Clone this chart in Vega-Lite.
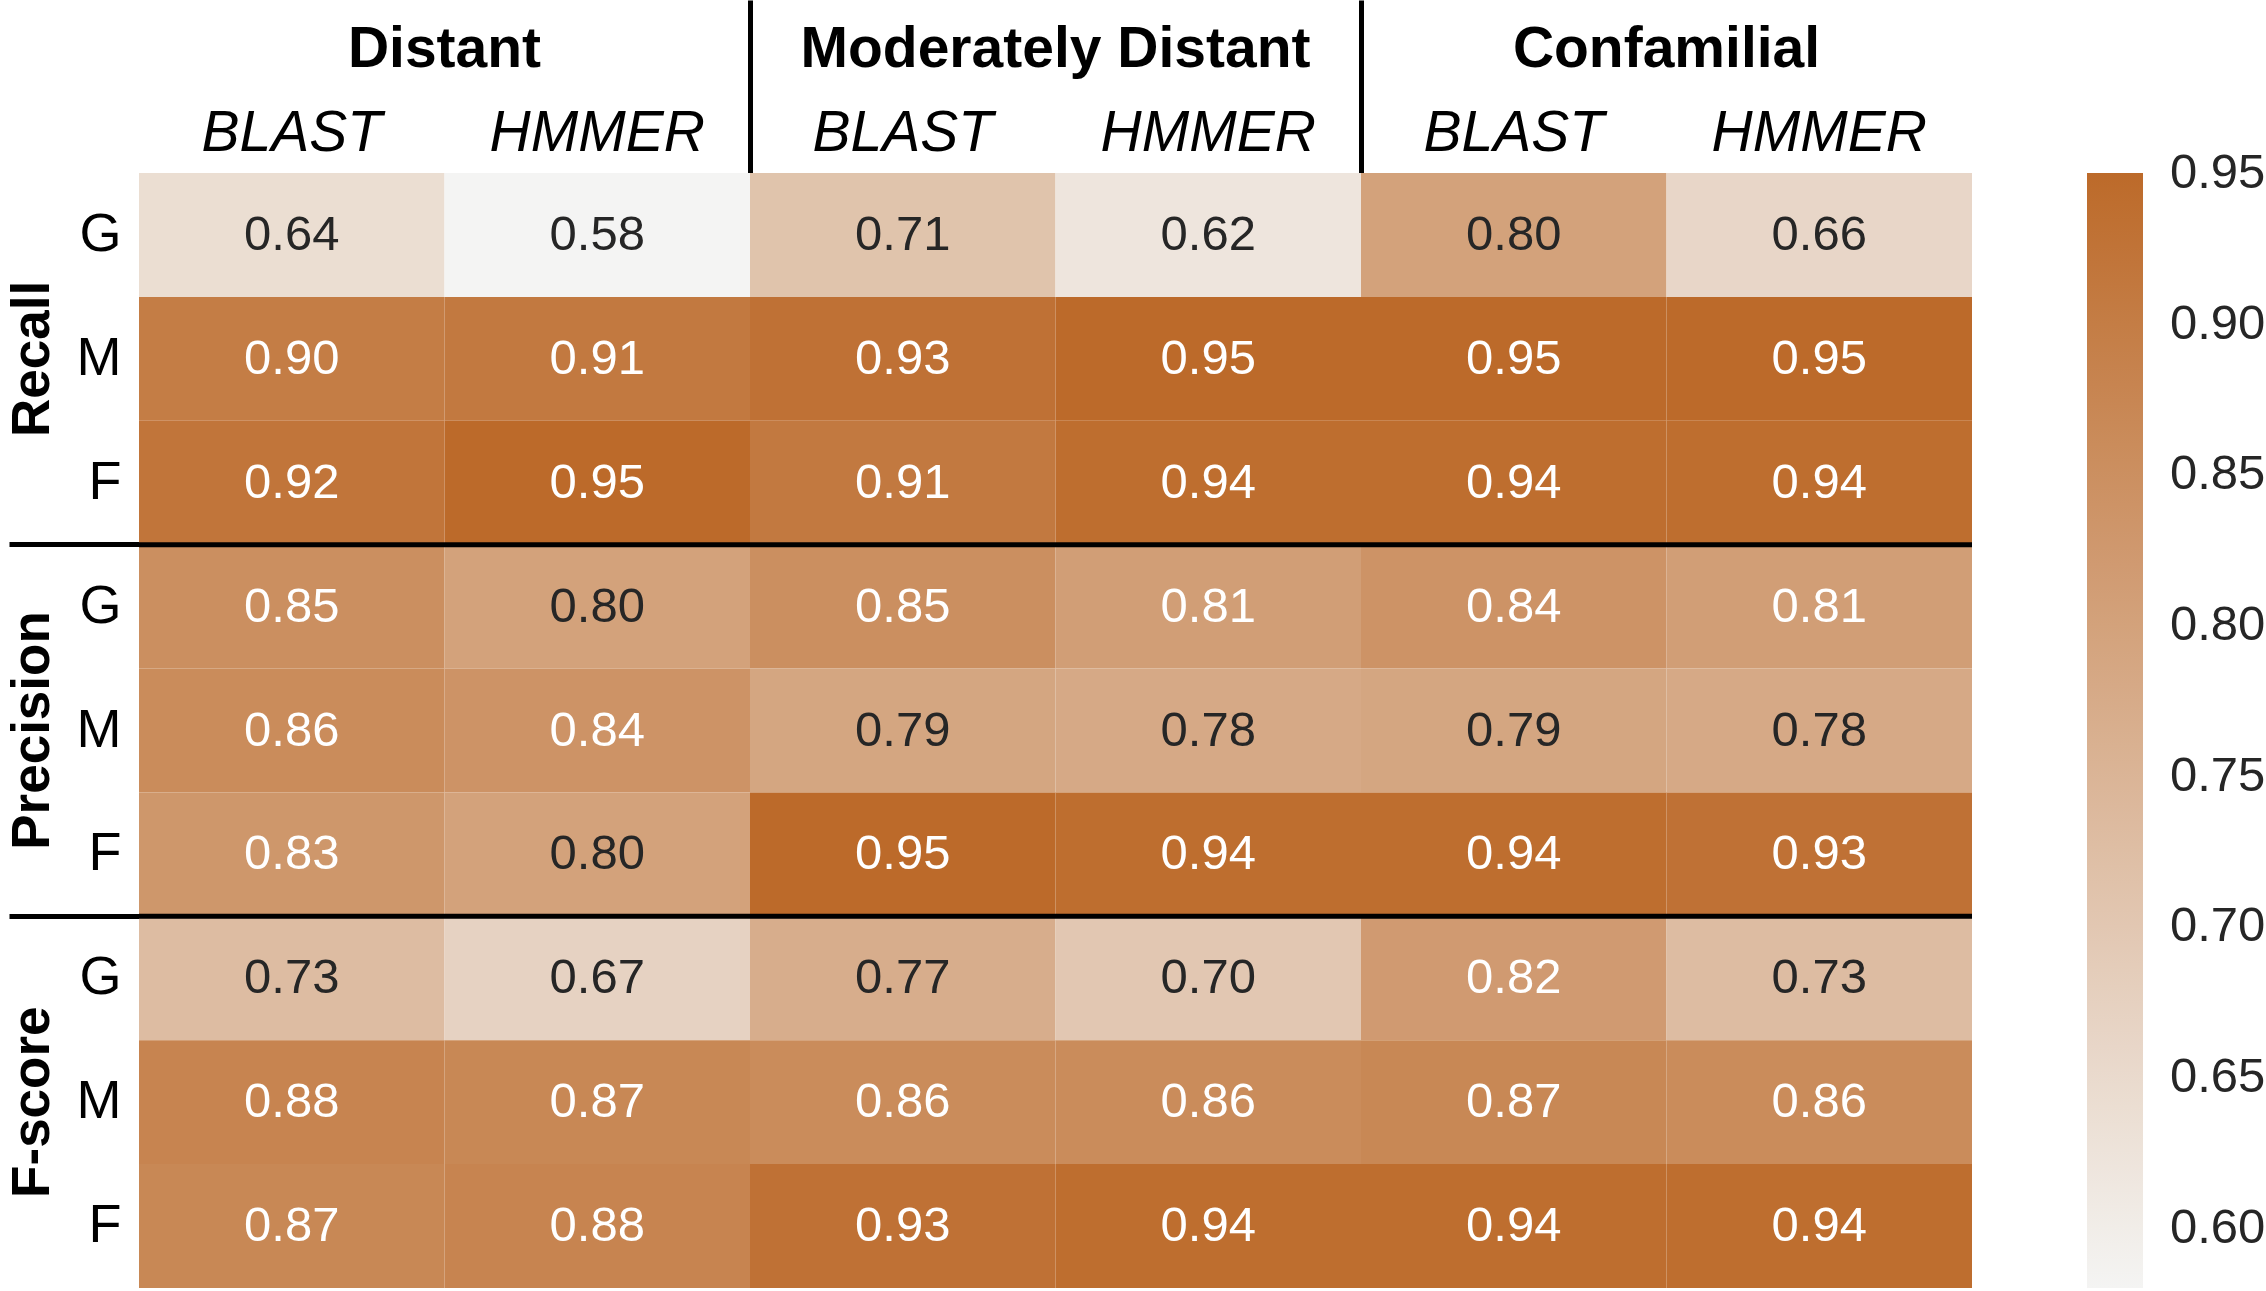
{
  "$schema": "https://vega.github.io/schema/vega-lite/v6.json",
  "width": 1833,
  "height": 1115,
  "autosize": {"type": "none"},
  "padding": {"left": 139, "top": 173, "right": 294, "bottom": 3},
  "background": "white",
  "config": {"view": {"stroke": null}, "font": "Liberation Sans"},
  "datasets": {
    "cells": [
      {"group": "Distant", "method": "BLAST", "metric": "Recall", "sub": "G", "value": 0.64},
      {"group": "Distant", "method": "HMMER", "metric": "Recall", "sub": "G", "value": 0.58},
      {"group": "Moderately Distant", "method": "BLAST", "metric": "Recall", "sub": "G", "value": 0.71},
      {"group": "Moderately Distant", "method": "HMMER", "metric": "Recall", "sub": "G", "value": 0.62},
      {"group": "Confamilial", "method": "BLAST", "metric": "Recall", "sub": "G", "value": 0.80},
      {"group": "Confamilial", "method": "HMMER", "metric": "Recall", "sub": "G", "value": 0.66},
      {"group": "Distant", "method": "BLAST", "metric": "Recall", "sub": "M", "value": 0.90},
      {"group": "Distant", "method": "HMMER", "metric": "Recall", "sub": "M", "value": 0.91},
      {"group": "Moderately Distant", "method": "BLAST", "metric": "Recall", "sub": "M", "value": 0.93},
      {"group": "Moderately Distant", "method": "HMMER", "metric": "Recall", "sub": "M", "value": 0.95},
      {"group": "Confamilial", "method": "BLAST", "metric": "Recall", "sub": "M", "value": 0.95},
      {"group": "Confamilial", "method": "HMMER", "metric": "Recall", "sub": "M", "value": 0.95},
      {"group": "Distant", "method": "BLAST", "metric": "Recall", "sub": "F", "value": 0.92},
      {"group": "Distant", "method": "HMMER", "metric": "Recall", "sub": "F", "value": 0.95},
      {"group": "Moderately Distant", "method": "BLAST", "metric": "Recall", "sub": "F", "value": 0.91},
      {"group": "Moderately Distant", "method": "HMMER", "metric": "Recall", "sub": "F", "value": 0.94},
      {"group": "Confamilial", "method": "BLAST", "metric": "Recall", "sub": "F", "value": 0.94},
      {"group": "Confamilial", "method": "HMMER", "metric": "Recall", "sub": "F", "value": 0.94},
      {"group": "Distant", "method": "BLAST", "metric": "Precision", "sub": "G", "value": 0.85},
      {"group": "Distant", "method": "HMMER", "metric": "Precision", "sub": "G", "value": 0.80},
      {"group": "Moderately Distant", "method": "BLAST", "metric": "Precision", "sub": "G", "value": 0.85},
      {"group": "Moderately Distant", "method": "HMMER", "metric": "Precision", "sub": "G", "value": 0.81},
      {"group": "Confamilial", "method": "BLAST", "metric": "Precision", "sub": "G", "value": 0.84},
      {"group": "Confamilial", "method": "HMMER", "metric": "Precision", "sub": "G", "value": 0.81},
      {"group": "Distant", "method": "BLAST", "metric": "Precision", "sub": "M", "value": 0.86},
      {"group": "Distant", "method": "HMMER", "metric": "Precision", "sub": "M", "value": 0.84},
      {"group": "Moderately Distant", "method": "BLAST", "metric": "Precision", "sub": "M", "value": 0.79},
      {"group": "Moderately Distant", "method": "HMMER", "metric": "Precision", "sub": "M", "value": 0.78},
      {"group": "Confamilial", "method": "BLAST", "metric": "Precision", "sub": "M", "value": 0.79},
      {"group": "Confamilial", "method": "HMMER", "metric": "Precision", "sub": "M", "value": 0.78},
      {"group": "Distant", "method": "BLAST", "metric": "Precision", "sub": "F", "value": 0.83},
      {"group": "Distant", "method": "HMMER", "metric": "Precision", "sub": "F", "value": 0.80},
      {"group": "Moderately Distant", "method": "BLAST", "metric": "Precision", "sub": "F", "value": 0.95},
      {"group": "Moderately Distant", "method": "HMMER", "metric": "Precision", "sub": "F", "value": 0.94},
      {"group": "Confamilial", "method": "BLAST", "metric": "Precision", "sub": "F", "value": 0.94},
      {"group": "Confamilial", "method": "HMMER", "metric": "Precision", "sub": "F", "value": 0.93},
      {"group": "Distant", "method": "BLAST", "metric": "F-score", "sub": "G", "value": 0.73},
      {"group": "Distant", "method": "HMMER", "metric": "F-score", "sub": "G", "value": 0.67},
      {"group": "Moderately Distant", "method": "BLAST", "metric": "F-score", "sub": "G", "value": 0.77},
      {"group": "Moderately Distant", "method": "HMMER", "metric": "F-score", "sub": "G", "value": 0.70},
      {"group": "Confamilial", "method": "BLAST", "metric": "F-score", "sub": "G", "value": 0.82},
      {"group": "Confamilial", "method": "HMMER", "metric": "F-score", "sub": "G", "value": 0.73},
      {"group": "Distant", "method": "BLAST", "metric": "F-score", "sub": "M", "value": 0.88},
      {"group": "Distant", "method": "HMMER", "metric": "F-score", "sub": "M", "value": 0.87},
      {"group": "Moderately Distant", "method": "BLAST", "metric": "F-score", "sub": "M", "value": 0.86},
      {"group": "Moderately Distant", "method": "HMMER", "metric": "F-score", "sub": "M", "value": 0.86},
      {"group": "Confamilial", "method": "BLAST", "metric": "F-score", "sub": "M", "value": 0.87},
      {"group": "Confamilial", "method": "HMMER", "metric": "F-score", "sub": "M", "value": 0.86},
      {"group": "Distant", "method": "BLAST", "metric": "F-score", "sub": "F", "value": 0.87},
      {"group": "Distant", "method": "HMMER", "metric": "F-score", "sub": "F", "value": 0.88},
      {"group": "Moderately Distant", "method": "BLAST", "metric": "F-score", "sub": "F", "value": 0.93},
      {"group": "Moderately Distant", "method": "HMMER", "metric": "F-score", "sub": "F", "value": 0.94},
      {"group": "Confamilial", "method": "BLAST", "metric": "F-score", "sub": "F", "value": 0.94},
      {"group": "Confamilial", "method": "HMMER", "metric": "F-score", "sub": "F", "value": 0.94}
    ],
    "seps": [{"metric": "Precision"}, {"metric": "F-score"}]
  },
  "layer": [
    {
      "data": {"name": "cells"},
      "transform": [
        {"calculate": "datum.group + '|' + datum.method", "as": "col"},
        {"calculate": "datum.metric + '|' + datum.sub", "as": "row"}
      ],
      "mark": {"type": "rect", "width": {"band": 1}, "height": {"band": 1}},
      "encoding": {
        "x": {
          "field": "col", "type": "nominal",
          "scale": {"type": "band", "domain": ["Distant|BLAST", "Distant|HMMER", "Moderately Distant|BLAST", "Moderately Distant|HMMER", "Confamilial|BLAST", "Confamilial|HMMER"], "paddingInner": 0, "paddingOuter": 0},
          "axis": {"orient": "top", "title": null, "ticks": false, "domain": false, "labelExpr": "split(datum.label, '|')[1]", "labelFont": "Liberation Sans", "labelFontStyle": "italic", "labelFontSize": 57, "labelColor": "black", "labelPadding": 23, "labelBaseline": "alphabetic", "labelAngle": 0, "labelLimit": 1000}
        },
        "y": {
          "field": "row", "type": "nominal",
          "scale": {"type": "band", "domain": ["Recall|G", "Recall|M", "Recall|F", "Precision|G", "Precision|M", "Precision|F", "F-score|G", "F-score|M", "F-score|F"], "paddingInner": 0, "paddingOuter": 0},
          "axis": {"orient": "left", "title": null, "ticks": false, "domain": false, "labelExpr": "split(datum.label, '|')[1]", "labelFont": "Liberation Sans", "labelFontSize": 54, "labelColor": "black", "labelPadding": 18, "labelLimit": 1000}
        },
        "color": {
          "field": "value", "type": "quantitative",
          "scale": {"domain": [0.58, 0.95], "range": ["#f4f4f3", "#bc6a2a"], "interpolate": "rgb"},
          "legend": {
            "title": null, "orient": "none", "legendX": 1948, "legendY": 0, "direction": "vertical",
            "gradientLength": 1115, "gradientThickness": 56, "gradientStrokeWidth": 0,
            "values": [0.6, 0.65, 0.7, 0.75, 0.8, 0.85, 0.9, 0.95], "format": ".2f",
            "labelFont": "Liberation Sans", "labelFontSize": 49, "labelColor": "#262626", "labelOffset": 27, "labelOverlap": false,
            "encode": {"labels": {"update": {"baseline": {"value": "middle"}}}}
          }
        }
      }
    },
    {
      "data": {"name": "cells"},
      "mark": {"type": "text", "font": "Liberation Sans", "fontSize": 49},
      "encoding": {
        "x": {
          "field": "group", "type": "nominal",
          "scale": {"type": "band", "domain": ["Distant", "Moderately Distant", "Confamilial"], "paddingInner": 0, "paddingOuter": 0},
          "axis": {"orient": "top", "title": null, "domain": false, "labelFont": "Liberation Sans", "labelFontWeight": "bold", "labelFontSize": 57, "labelColor": "black", "labelAngle": 0, "labelBaseline": "alphabetic", "labelLimit": 1000, "bandPosition": 0, "tickSize": 173, "tickWidth": 5, "tickColor": {"condition": {"test": "datum.value === 'Distant'", "value": "transparent"}, "value": "black"}, "labelPadding": -66}
        },
        "xOffset": {"field": "method", "type": "nominal", "scale": {"type": "band", "domain": ["BLAST", "HMMER"], "paddingInner": 0, "paddingOuter": 0}},
        "y": {
          "field": "metric", "type": "nominal",
          "scale": {"type": "band", "domain": ["Recall", "Precision", "F-score"], "paddingInner": 0, "paddingOuter": 0},
          "axis": {"orient": "left", "title": null, "domain": false, "labelFont": "Liberation Sans", "labelAngle": 270, "labelAlign": "center", "labelBaseline": "alphabetic", "labelFontWeight": "bold", "labelFontSize": 53, "labelColor": "black", "labelLimit": 1000, "bandPosition": 0, "tickSize": 130, "tickWidth": 5, "tickColor": {"condition": {"test": "datum.value === 'Recall'", "value": "transparent"}, "value": "black"}, "labelPadding": -39}
        },
        "yOffset": {"field": "sub", "type": "nominal", "scale": {"type": "band", "domain": ["G", "M", "F"], "paddingInner": 0, "paddingOuter": 0}},
        "text": {"field": "value", "type": "quantitative", "format": ".2f"},
        "color": {"condition": {"test": "datum.value > 0.805", "value": "white"}, "value": "#262626"}
      }
    },
    {
      "data": {"name": "seps"},
      "mark": {"type": "rule", "color": "black", "strokeWidth": 5},
      "encoding": {
        "y": {
          "field": "metric", "type": "nominal", "bandPosition": 0,
          "scale": {"type": "band", "domain": ["Recall", "Precision", "F-score"], "paddingInner": 0, "paddingOuter": 0},
          "axis": null
        }
      }
    }
  ],
  "resolve": {
    "scale": {"x": "independent", "y": "independent"},
    "axis": {"x": "independent", "y": "independent"}
  }
}
